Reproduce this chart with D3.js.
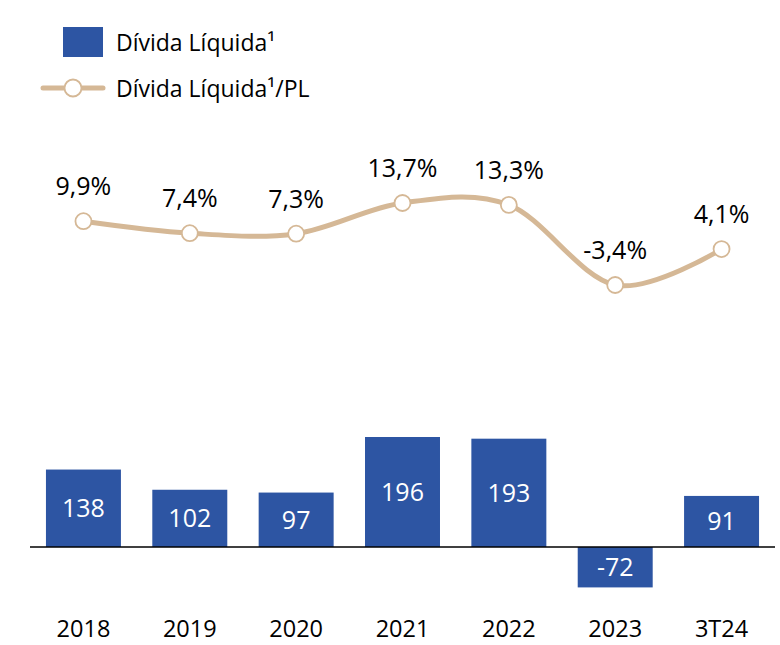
<!DOCTYPE html>
<html><head><meta charset="utf-8">
<script src="https://cdn.jsdelivr.net/npm/d3@7"></script>
<style>body{margin:0;background:#fff;} text{font-family:"Open Sans",sans-serif;}</style>
</head><body>
<svg id="c" width="780" height="645"></svg>
<script>
const categories = ["2018","2019","2020","2021","2022","2023","3T24"];
const debtValues = [138,102,97,196,193,-72,91];
const ratioValues = [9.9,7.4,7.3,13.7,13.3,-3.4,4.1];
const ratioLabels = ["9,9%","7,4%","7,3%","13,7%","13,3%","-3,4%","4,1%"];
const legendLabels = ["Dívida Líquida¹","Dívida Líquida¹/PL"];

const blue = "#2D55A3", tan = "#D5B896";
const svg = d3.select("#c");

const x = d3.scaleBand().domain(categories).range([30,775]).paddingInner(0.295).paddingOuter(0.15);
const yBar = d3.scaleLinear().domain([0,196]).range([547,437]);
const yLine = d3.scaleLinear().domain([-3.4,13.7]).range([285,203]);

// bars
svg.selectAll("rect.bar").data(debtValues).join("rect")
  .attr("x",(d,i)=>x(categories[i]))
  .attr("width",x.bandwidth())
  .attr("y",d=>Math.min(yBar(d),yBar(0)))
  .attr("height",d=>Math.abs(yBar(d)-yBar(0)))
  .attr("fill",blue);

svg.selectAll("text.bl").data(debtValues).join("text")
  .attr("x",(d,i)=>x(categories[i])+x.bandwidth()/2)
  .attr("y",d=>(yBar(d)+yBar(0))/2)
  .attr("dy","0.36em")
  .attr("text-anchor","middle").attr("fill","#fff").attr("font-size",25)
  .text(d=>d);

// zero axis
const xAxis = d3.axisBottom(x).tickSize(0).tickPadding(0);
const g = svg.append("g").attr("transform",`translate(0,${yBar(0)})`).call(xAxis);
g.select(".domain").attr("stroke","#000").attr("stroke-width",1.6).attr("d","M30,0H775");
g.selectAll(".tick text").attr("font-size",23.5).attr("fill","#000")
  .attr("font-family","Open Sans, sans-serif")
  .attr("y",637.2-547).attr("dy",0);

// line
const line = d3.line()
  .x((d,i)=>x(categories[i])+x.bandwidth()/2)
  .y(d=>yLine(d))
  .curve(d3.curveCatmullRom.alpha(0));
svg.append("path").datum(ratioValues).attr("d",line)
  .attr("fill","none").attr("stroke",tan).attr("stroke-width",5).attr("stroke-linecap","round");

svg.selectAll("circle.pt").data(ratioValues).join("circle")
  .attr("cx",(d,i)=>x(categories[i])+x.bandwidth()/2)
  .attr("cy",d=>yLine(d)).attr("r",8)
  .attr("fill","#fff").attr("stroke",tan).attr("stroke-width",1.8);

svg.selectAll("text.pl").data(ratioValues).join("text")
  .attr("x",(d,i)=>x(categories[i])+x.bandwidth()/2)
  .attr("y",d=>yLine(d)-35)
  .attr("dy","0.36em")
  .attr("text-anchor","middle").attr("fill","#000").attr("font-size",25)
  .text((d,i)=>ratioLabels[i]);

// legend
svg.append("rect").attr("x",63).attr("y",27).attr("width",40).attr("height",30).attr("fill",blue);
svg.append("text").attr("x",116).attr("y",43).attr("dy","0.36em").attr("font-size",23).attr("fill","#000").text(legendLabels[0]);
svg.append("line").attr("x1",43).attr("x2",103).attr("y1",88).attr("y2",88)
  .attr("stroke",tan).attr("stroke-width",5).attr("stroke-linecap","round");
svg.append("circle").attr("cx",73).attr("cy",88).attr("r",8.5).attr("fill","#fff").attr("stroke",tan).attr("stroke-width",1.8);
svg.append("text").attr("x",116).attr("y",89).attr("dy","0.36em").attr("font-size",23).attr("fill","#000").text(legendLabels[1]);
</script>
</body></html>
